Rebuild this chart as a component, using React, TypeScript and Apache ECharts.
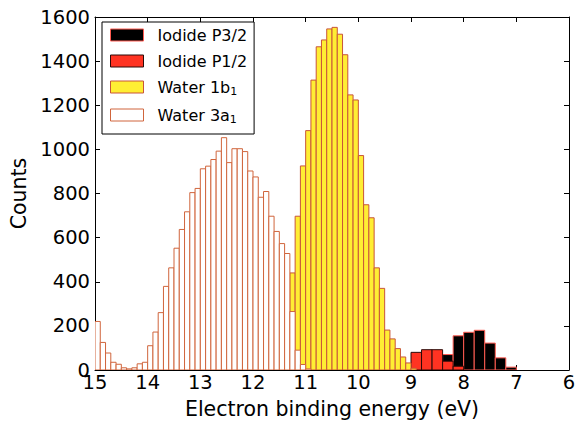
import React, { useEffect, useRef } from 'react';
import * as echarts from 'echarts';

// Histogram data (bins run from high to low binding energy)
const waterBinWidth = 0.1;
const water3a1Start = 15.0;
const water3a1Counts = [
  220, 125, 77, 35, 26, 10, 5, 10, 28, 35,
  110, 172, 260, 379, 463, 552, 637, 717, 804, 823,
  912, 924, 954, 992, 1053, 940, 1003, 1003, 990, 902,
  875, 783, 809, 697, 628, 573, 528, 265, 90, 25, 5,
];
const water1b1Start = 11.3;
const water1b1Counts = [
  440, 697, 925, 1085, 1314, 1465, 1496, 1546, 1553, 1522,
  1429, 1247, 1224, 972, 749, 690, 463, 370, 181, 141,
  97, 59, 32, 8,
];
const iodideBinWidth = 0.2;
const iodideP12Start = 9.0;
const iodideP12Counts = [80, 92, 92, 40, 17];
const iodideP32Start = 8.4;
const iodideP32Counts = [70, 155, 171, 180, 122, 55, 13];

const seriesNames = ['Iodide P3/2', 'Iodide P1/2', 'Water 1b1', 'Water 3a1'];
const xMin = 6;
const xMax = 15;
const xInterval = 1;
const yMin = 0;
const yMax = 1600;
const yInterval = 200;

const FONT = 'DejaVu Sans';

const toBins = (start: number, width: number, counts: number[]) =>
  counts.map((c, i) => [
    Math.round((start - i * width) * 1000) / 1000,
    Math.round((start - (i + 1) * width) * 1000) / 1000,
    c,
  ]);

const styles = [
  { fill: '#000000', stroke: '#ff5a50' },
  { fill: '#ff3322', stroke: '#2a0a08' },
  { fill: '#ffee33', stroke: '#c8553a' },
  { fill: '#ffffff', stroke: '#d0653c' },
];

const makeRender = (fill: string, stroke: string) => (_params: any, api: any) => {
  const a = api.coord([api.value(0), api.value(2)]);
  const b = api.coord([api.value(1), 0]);
  return {
    type: 'rect',
    shape: {
      x: Math.min(a[0], b[0]),
      y: a[1],
      width: Math.abs(b[0] - a[0]),
      height: b[1] - a[1],
    },
    style: { fill, stroke, lineWidth: 1 },
  };
};

export default function App() {
  const ref = useRef<HTMLDivElement>(null);
  useEffect(() => {
    if (!ref.current) return;
    const chart = echarts.init(ref.current, undefined, { renderer: 'svg' });
    const datasets = [
      toBins(iodideP32Start, iodideBinWidth, iodideP32Counts),
      toBins(iodideP12Start, iodideBinWidth, iodideP12Counts),
      toBins(water1b1Start, waterBinWidth, water1b1Counts),
      toBins(water3a1Start, waterBinWidth, water3a1Counts),
    ];
    const axisCommon = {
      axisLine: { show: true, onZero: false, lineStyle: { color: '#000', width: 1 } },
      axisTick: { show: true, inside: true, length: 5, lineStyle: { color: '#000', width: 1 } },
      splitLine: { show: false },
    };
    const labelStyle = { color: '#000', fontSize: 19.5, fontFamily: FONT, formatter: (v: number) => String(v) };
    chart.setOption({
      animation: false,
      backgroundColor: '#fff',
      grid: { left: 95, right: 18, top: 17, bottom: 60, show: false },
      xAxis: [
        {
          type: 'value', min: xMin, max: xMax, interval: xInterval, inverse: true, position: 'bottom',
          ...axisCommon,
          axisLabel: { ...labelStyle, margin: 2 },
          name: 'Electron binding energy (eV)', nameLocation: 'middle', nameGap: 28,
          nameTextStyle: { color: '#000', fontSize: 20.5, fontFamily: FONT },
        },
        {
          type: 'value', min: xMin, max: xMax, interval: xInterval, inverse: true, position: 'top',
          ...axisCommon, axisLabel: { show: false },
        },
      ],
      yAxis: [
        {
          type: 'value', min: yMin, max: yMax, interval: yInterval, position: 'left',
          ...axisCommon,
          axisLabel: { ...labelStyle, margin: 5 },
          name: 'Counts', nameLocation: 'middle', nameGap: 63, nameRotate: 90,
          nameTextStyle: { color: '#000', fontSize: 20.5, fontFamily: FONT },
        },
        {
          type: 'value', min: yMin, max: yMax, interval: yInterval, position: 'right',
          ...axisCommon, axisLabel: { show: false },
        },
      ],
      legend: {
        orient: 'vertical', left: 102, top: 22,
        itemWidth: 33, itemHeight: 12, itemGap: 10,
        padding: [5, 7, 9, 8],
        borderColor: '#000', borderWidth: 1, backgroundColor: '#fff',
        icon: 'rect', selectedMode: false,
        formatter: (name: string) => {
          if (name === 'Water 1b1') return '{m|Water 1b}{s|1}';
          if (name === 'Water 3a1') return '{m|Water 3a}{s|1}';
          return '{m|' + name + '}';
        },
        textStyle: {
          color: '#000', fontSize: 16, fontFamily: FONT,
          rich: {
            m: { color: '#000', fontSize: 16, fontFamily: FONT, lineHeight: 20, padding: [0, 0, 0, 9] },
            s: { color: '#000', fontSize: 11, fontFamily: FONT, lineHeight: 11, verticalAlign: 'bottom' },
          },
        },
        data: seriesNames.map((name, i) => ({
          name,
          itemStyle: { color: styles[i].fill, borderColor: styles[i].stroke, borderWidth: 1 },
        })),
      },
      series: seriesNames.map((name, i) => ({
        name,
        type: 'custom',
        xAxisIndex: 0,
        yAxisIndex: 0,
        clip: true,
        renderItem: makeRender(styles[i].fill, styles[i].stroke),
        itemStyle: { color: styles[i].fill, borderColor: styles[i].stroke, borderWidth: 1 },
        encode: { x: [0, 1], y: 2 },
        data: datasets[i],
      })),
    });
    return () => chart.dispose();
  }, []);
  return (
    <div
      ref={ref}
      style={{ position: 'fixed', left: 0, top: 0, width: 587, height: 430, background: '#fff' }}
    />
  );
}
